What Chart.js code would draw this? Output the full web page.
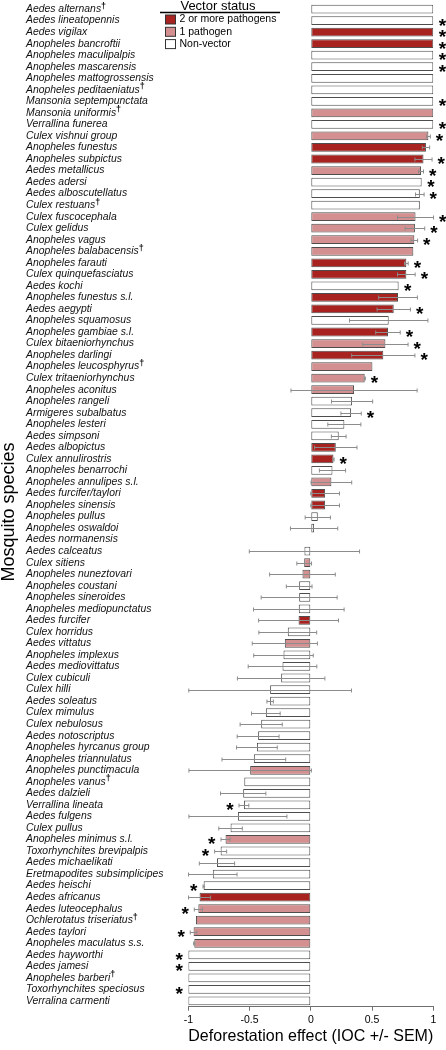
<!DOCTYPE html>
<html>
<head>
<meta charset="utf-8">
<script src="https://cdn.jsdelivr.net/npm/chart.js@4.4.1/dist/chart.umd.min.js"></script>
<style>
  html, body { margin: 0; padding: 0; background: #ffffff; }
  #div_grafico { width: 446px; height: 1050px; }
</style>
</head>
<body>
<div id="div_grafico"><canvas id="grafico" width="446" height="1050"></canvas></div>
<script>
// dados (de cima para baixo)
var especies = [
  "Aedes alternans†", "Aedes lineatopennis", "Aedes vigilax", "Anopheles bancroftii",
  "Anopheles maculipalpis", "Anopheles mascarensis", "Anopheles mattogrossensis",
  "Anopheles peditaeniatus†", "Mansonia septempunctata", "Mansonia uniformis†",
  "Verrallina funerea", "Culex vishnui group", "Anopheles funestus", "Anopheles subpictus",
  "Aedes metallicus", "Aedes adersi", "Aedes alboscutellatus", "Culex restuans†",
  "Culex fuscocephala", "Culex gelidus", "Anopheles vagus", "Anopheles balabacensis†",
  "Anopheles farauti", "Culex quinquefasciatus", "Aedes kochi", "Anopheles funestus s.l.",
  "Aedes aegypti", "Anopheles squamosus", "Anopheles gambiae s.l.", "Culex bitaeniorhynchus",
  "Anopheles darlingi", "Anopheles leucosphyrus†", "Culex tritaeniorhynchus",
  "Anopheles aconitus", "Anopheles rangeli", "Armigeres subalbatus", "Anopheles lesteri",
  "Aedes simpsoni", "Aedes albopictus", "Culex annulirostris", "Anopheles benarrochi",
  "Anopheles annulipes s.l.", "Aedes furcifer/taylori", "Anopheles sinensis",
  "Anopheles pullus", "Anopheles oswaldoi", "Aedes normanensis", "Aedes calceatus",
  "Culex sitiens", "Anopheles nuneztovari", "Anopheles coustani", "Anopheles sineroides",
  "Anopheles mediopunctatus", "Aedes furcifer", "Culex horridus", "Aedes vittatus",
  "Anopheles implexus", "Aedes mediovittatus", "Culex cubiculi", "Culex hilli",
  "Aedes soleatus", "Culex mimulus", "Culex nebulosus", "Aedes notoscriptus",
  "Anopheles hyrcanus group", "Anopheles triannulatus", "Anopheles punctimacula",
  "Anopheles vanus†", "Aedes dalzieli", "Verrallina lineata", "Aedes fulgens",
  "Culex pullus", "Anopheles minimus s.l.", "Toxorhynchites brevipalpis",
  "Aedes michaelikati", "Eretmapodites subsimplicipes", "Aedes heischi", "Aedes africanus",
  "Aedes luteocephalus", "Ochlerotatus triseriatus†", "Aedes taylori",
  "Anopheles maculatus s.s.", "Aedes hayworthi", "Aedes jamesi", "Anopheles barberi†",
  "Toxorhynchites speciosus", "Verralina carmenti"
];

// 2 = 2 ou mais patógenos, 1 = 1 patógeno, 0 = não vetor
var status_vetor = [
  0, 0, 2, 2, 0, 0, 0, 0, 0, 1,
  0, 1, 2, 2, 1, 0, 0, 0, 1, 1,
  1, 1, 2, 2, 0, 2, 2, 0, 2, 1,
  2, 1, 1, 1, 0, 0, 0, 0, 2, 2,
  0, 1, 2, 2, 0, 0, 0, 0, 1, 1,
  0, 0, 0, 2, 0, 1, 0, 0, 0, 0,
  0, 0, 0, 0, 0, 0, 1, 0, 0, 0,
  0, 0, 1, 0, 0, 0, 0, 2, 1, 1,
  1, 1, 0, 0, 0, 0, 0
];

var ioc = [
  1, 1, 1, 1, 1, 1, 1, 1, 1, 1,
  1, 0.96, 0.94, 0.92, 0.90, 0.905, 0.89, 0.89, 0.855, 0.85,
  0.845, 0.837, 0.78, 0.78, 0.717, 0.712, 0.677, 0.636, 0.63, 0.609,
  0.592, 0.503, 0.44, 0.353, 0.337, 0.329, 0.274, 0.228, 0.204, 0.185,
  0.177, 0.168, 0.117, 0.117, 0.057, 0.027, 0, -0.052, -0.054, -0.068,
  -0.095, -0.095, -0.098, -0.1, -0.188, -0.212, -0.223, -0.231, -0.242, -0.332,
  -0.332, -0.367, -0.405, -0.43, -0.44, -0.465, -0.495, -0.543, -0.552, -0.546,
  -0.595, -0.655, -0.696, -0.736, -0.766, -0.8, -0.875, -0.908, -0.918, -0.9375,
  -0.957, -0.951, -1, -1, -1, -1, -1
];

var sem = [
  0, 0, 0, 0, 0, 0, 0, 0, 0, 0,
  0, 0.016, 0.03, 0.07, 0.02, 0, 0.035, 0, 0.147, 0.08,
  0.027, 0, 0.015, 0.072, 0, 0.158, 0.136, 0.32, 0.1, 0.185,
  0.258, 0, 0.005, 0.515, 0.168, 0.083, 0.135, 0.06, 0.173, 0.005,
  0.107, 0.166, 0.117, 0.117, 0.103, 0.193, 0, 0.45, 0.06, 0.268,
  0.105, 0.31, 0.37, 0.326, 0.236, 0.266, 0.243, 0.28, 0.357, 0.664,
  0.026, 0.117, 0.172, 0.171, 0.166, 0.26, 0.5, 0, 0.185, 0.04,
  0.4, 0.096, 0.037, 0.049, 0.144, 0.198, 0.005, 0.09, 0.033, 0,
  0.027, 0.005, 0, 0, 0, 0, 0
];

// 1 = efeito significativo (asterisco)
var significativo = [
  0, 1, 1, 1, 1, 1, 0, 0, 1, 0,
  1, 1, 0, 1, 1, 1, 1, 0, 1, 1,
  1, 0, 1, 1, 1, 0, 1, 0, 1, 1,
  1, 0, 1, 0, 0, 1, 0, 0, 0, 1,
  0, 0, 0, 0, 0, 0, 0, 0, 0, 0,
  0, 0, 0, 0, 0, 0, 0, 0, 0, 0,
  0, 0, 0, 0, 0, 0, 0, 0, 0, 1,
  0, 0, 1, 1, 0, 0, 1, 0, 1, 0,
  1, 0, 1, 1, 0, 1, 0
];

var ticks_x = [-1, -0.5, 0, 0.5, 1];
var legenda_nomes = ["2 or more pathogens", "1 pathogen", "Non-vector"];
var legenda_status = [2, 1, 0];

var cores_status = { 2: "#a8231f", 1: "#d49090", 0: "#ffffff" };
var fonte = "'Liberation Sans', Arial, Helvetica, sans-serif";

Chart.defaults.font.family = fonte;
Chart.defaults.color = "#000000";

var cores_barras = status_vetor.map(function (s) { return cores_status[s]; });

// desenha barras de erro, nomes, asteriscos e legenda
var plugin_extras = {
  id: "extras",
  afterDatasetsDraw: function (chart) {
    var ctx = chart.ctx;
    var x = chart.scales.x;
    var y = chart.scales.y;
    ctx.save();
    ctx.strokeStyle = "#8c8c8c";
    ctx.lineWidth = 1;
    for (var i = 0; i < ioc.length; i++) {
      if (!sem[i]) continue;
      var yc = Math.round(y.getPixelForValue(i)) + 0.5;
      var x1 = x.getPixelForValue(ioc[i] - sem[i]);
      var x2 = x.getPixelForValue(ioc[i] + sem[i]);
      ctx.beginPath();
      ctx.moveTo(x1, yc); ctx.lineTo(x2, yc);
      ctx.moveTo(x1, yc - 2); ctx.lineTo(x1, yc + 2);
      ctx.moveTo(x2, yc - 2); ctx.lineTo(x2, yc + 2);
      ctx.stroke();
    }
    ctx.restore();
  },
  afterDraw: function (chart) {
    var ctx = chart.ctx;
    var x = chart.scales.x;
    var y = chart.scales.y;
    ctx.save();

    // nomes das espécies
    ctx.fillStyle = "#111111";
    ctx.textBaseline = "middle";
    ctx.textAlign = "left";
    for (var i = 0; i < especies.length; i++) {
      var yc = y.getPixelForValue(i);
      var nome = especies[i];
      var adaga = nome.indexOf("†") >= 0;
      nome = nome.replace("†", "");
      ctx.font = "italic 10.4px " + fonte;
      ctx.fillText(nome, 26, yc);
      if (adaga) {
        var w = ctx.measureText(nome).width;
        ctx.font = "bold 9px " + fonte;
        ctx.fillText("†", 26 + w, yc - 3);
      }
    }

    // asteriscos
    ctx.font = "bold 19px " + fonte;
    ctx.textAlign = "center";
    ctx.textBaseline = "alphabetic";
    ctx.fillStyle = "#000000";
    for (var j = 0; j < ioc.length; j++) {
      if (!significativo[j]) continue;
      var ext = Math.abs(ioc[j]) + sem[j] + 0.075;
      var xv = ioc[j] >= 0 ? ext : -ext;
      ctx.fillText("*", x.getPixelForValue(xv), y.getPixelForValue(j) + 11);
    }

    // título do eixo y
    ctx.save();
    ctx.translate(9, 512);
    ctx.rotate(-Math.PI / 2);
    ctx.font = "18px " + fonte;
    ctx.textAlign = "center";
    ctx.textBaseline = "middle";
    ctx.fillText("Mosquito species", 0, 0);
    ctx.restore();

    // legenda
    ctx.font = "13px " + fonte;
    ctx.textAlign = "center";
    ctx.textBaseline = "middle";
    ctx.fillText("Vector status", 218, 6);
    ctx.strokeStyle = "#000000";
    ctx.lineWidth = 1.3;
    ctx.beginPath();
    ctx.moveTo(160, 12.5); ctx.lineTo(280, 12.5);
    ctx.stroke();
    ctx.font = "10.5px " + fonte;
    ctx.textAlign = "left";
    ctx.lineWidth = 1;
    ctx.strokeStyle = "#333333";
    for (var k = 0; k < legenda_nomes.length; k++) {
      var ly = 19.5 + k * 12.3;
      ctx.fillStyle = cores_status[legenda_status[k]];
      ctx.fillRect(165.5, ly - 4.5, 10, 9);
      ctx.strokeRect(165.5, ly - 4.5, 10, 9);
      ctx.fillStyle = "#000000";
      ctx.fillText(legenda_nomes[k], 179.5, ly);
    }
    ctx.restore();
  }
};

var grafico = new Chart(document.getElementById("grafico"), {
  type: "bar",
  data: {
    labels: especies,
    datasets: [{
      data: ioc,
      backgroundColor: cores_barras,
      borderColor: "#4d4d4d",
      borderWidth: 1,
      borderSkipped: false,
      barPercentage: 0.76,
      categoryPercentage: 1
    }]
  },
  options: {
    indexAxis: "y",
    responsive: false,
    animation: false,
    layout: { padding: { top: 3.3, right: 12.7, left: 0, bottom: 0 } },
    plugins: {
      legend: { display: false },
      tooltip: { enabled: false }
    },
    scales: {
      x: {
        min: -1,
        max: 1,
        afterBuildTicks: function (s) {
          s.ticks = ticks_x.map(function (v) { return { value: v }; });
        },
        afterFit: function (s) { s.height = 43.3; },
        ticks: {
          font: { size: 10.5 },
          padding: 3,
          maxRotation: 0,
          callback: function (v) { return String(v); }
        },
        grid: { display: true, drawOnChartArea: false, drawTicks: true, tickLength: 4, color: "#707070" },
        border: { display: true, color: "#707070" },
        title: {
          display: true,
          text: "Deforestation effect (IOC +/- SEM)",
          font: { size: 16.5 },
          padding: { top: 0, bottom: 4 }
        }
      },
      y: {
        afterFit: function (s) { s.width = 188.3; },
        ticks: { display: false },
        grid: { display: false },
        border: { display: false }
      }
    }
  },
  plugins: [plugin_extras]
});
</script>
</body>
</html>
